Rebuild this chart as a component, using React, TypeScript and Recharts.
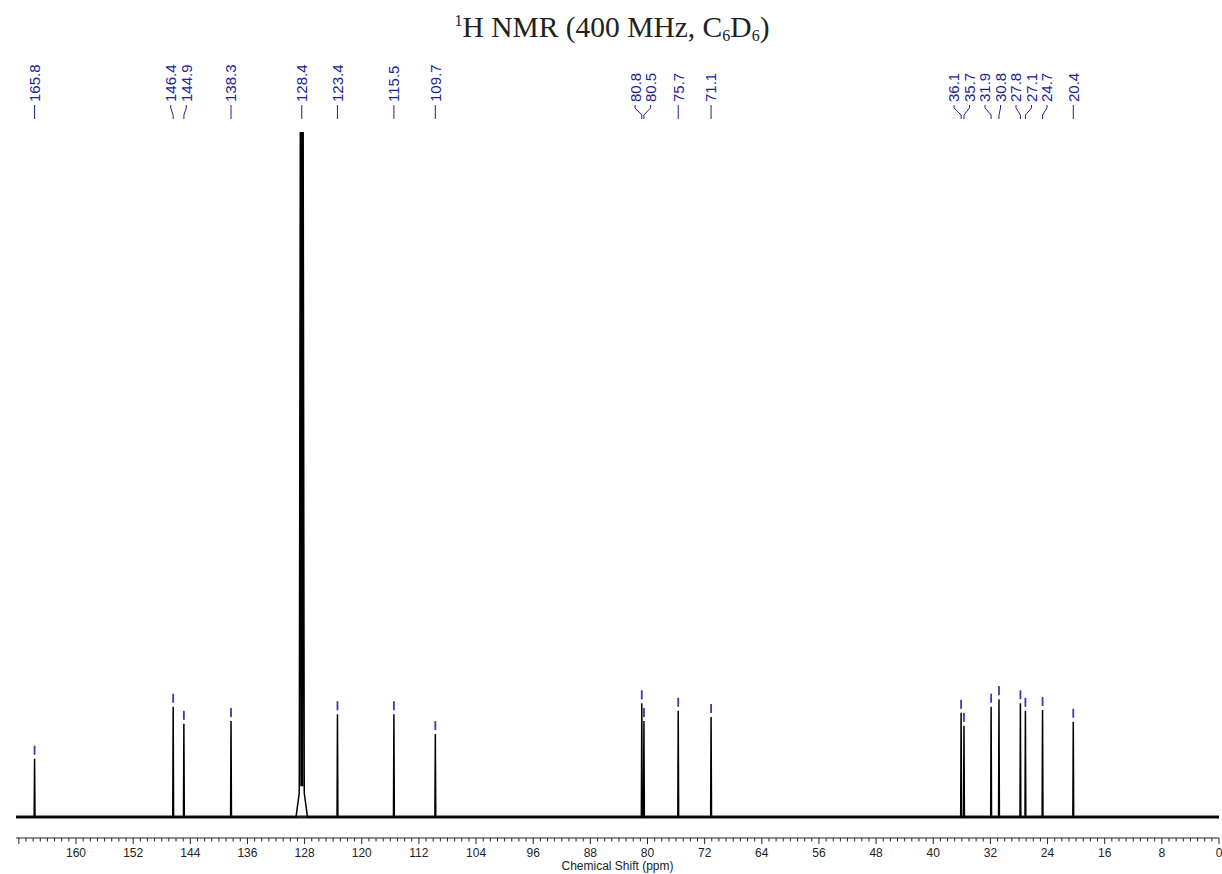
import { ComposedChart, Line, Scatter, XAxis, YAxis, ReferenceLine } from 'recharts';

// picked carbon signals (ppm) and their heights (solvent multiplet = 100)
const peakShifts = [165.8, 146.4, 144.9, 138.3, 123.4, 115.5, 109.7, 80.8, 80.5, 75.7, 71.1, 36.1, 35.7, 31.9, 30.8, 27.8, 27.1, 24.7, 20.4];
const peakHeights = [8.5, 16.1, 13.6, 14.0, 15.0, 15.0, 12.1, 16.6, 14.0, 15.5, 14.6, 15.2, 13.3, 16.1, 17.2, 16.6, 15.5, 15.6, 13.9];

// C6D6 solvent multiplet, runs off the top of the plot
const solventShifts = [129.2, 128.75, 128.6, 128.5, 128.4, 128.3, 128.2, 128.05, 127.6];
const solventHeights = [0, 3.5, 100, 4.5, 100, 4.5, 100, 3.5, 0];

// shifts printed along the top
const labelShifts = [165.8, 146.4, 144.9, 138.3, 128.4, 123.4, 115.5, 109.7, 80.8, 80.5, 75.7, 71.1, 36.1, 35.7, 31.9, 30.8, 27.8, 27.1, 24.7, 20.4];

const labelledTicks = [160, 152, 144, 136, 128, 120, 112, 104, 96, 88, 80, 72, 64, 56, 48, 40, 32, 24, 16, 8, 0];

const CHART_W = 1222;
const CHART_H = 874;
const MARGIN = { top: 132, right: 3, bottom: 0, left: 16 };
const PPM_MAX = 168.4;
const PX_PER_PPM = (CHART_W - MARGIN.left - MARGIN.right) / PPM_MAX;
const PEAK_HALF_WIDTH = 0.06;
const LABEL_GAP = 15.5;
const NAVY = '#22229a';
const SANS = '"Liberation Sans", Arial, sans-serif';

const spectrum = (() => {
  const pts: { x: number; y: number }[] = [{ x: PPM_MAX, y: 0 }, { x: 0, y: 0 }];
  peakShifts.forEach((ppm, i) => {
    pts.push({ x: ppm + PEAK_HALF_WIDTH, y: 0 }, { x: ppm, y: peakHeights[i] }, { x: ppm - PEAK_HALF_WIDTH, y: 0 });
  });
  solventShifts.forEach((ppm, i) => pts.push({ x: ppm, y: solventHeights[i] }));
  return pts.sort((a, b) => b.x - a.x);
})();

const markers = peakShifts.map((ppm, i) => ({ x: ppm, y: peakHeights[i] }));

// push crowded labels apart, keeping each group centred on its peaks
function spreadLabels(xs: number[], gap: number) {
  const pos = [...xs];
  for (let iter = 0; iter < 300; iter++) {
    let moved = false;
    for (let i = 1; i < pos.length; i++) {
      const d = pos[i] - pos[i - 1];
      if (d < gap - 0.01) {
        const push = (gap - d) / 2;
        pos[i - 1] -= push;
        pos[i] += push;
        moved = true;
      }
    }
    if (!moved) break;
  }
  return pos;
}

const basePx = labelShifts.map(ppm => (PPM_MAX - ppm) * PX_PER_PPM);
const spread = spreadLabels(basePx, LABEL_GAP);
const labelOffsets = spread.map((p, i) => p - basePx[i]);
const labels = labelShifts.map((ppm, i) => ({ x: ppm, y: 100, i }));

const allTicks = Array.from({ length: 169 }, (_, i) => i);

function PpmTick(props: any) {
  const { x, y, payload } = props;
  const v = payload.value;
  const major = v % 8 === 0;
  return (
    <g>
      <line x1={x} y1={y} x2={x} y2={y + (major ? 6 : 3.5)} stroke="#222" strokeWidth={1} />
      {labelledTicks.includes(v) && (
        <text x={x} y={y + 19} textAnchor="middle" fontSize={12} fontFamily={SANS} fill="#222">
          {v}
        </text>
      )}
    </g>
  );
}

function Marker(props: any) {
  const { cx, cy } = props;
  return <rect x={cx - 0.9} y={cy - 13} width={1.8} height={9} fill="#3a3ab0" />;
}

function PeakLabel(props: any) {
  const { cx, cy, payload } = props;
  const lx = cx + labelOffsets[payload.i];
  const top = cy - 27;
  return (
    <g>
      <polyline
        points={`${lx},${top} ${lx},${top + 3} ${cx},${top + 10} ${cx},${top + 14}`}
        fill="none"
        stroke={NAVY}
        strokeWidth={1}
      />
      <text
        x={lx}
        y={top - 3}
        transform={`rotate(-90 ${lx} ${top - 3})`}
        dy="0.36em"
        fontSize={15}
        fontFamily={SANS}
        fill={NAVY}
      >
        {payload.x.toFixed(1)}
      </text>
    </g>
  );
}

export default function App() {
  return (
    <div style={{ position: 'absolute', left: 0, top: 0, width: CHART_W, height: CHART_H, background: '#fff' }}>
      <svg width={CHART_W} height={50} style={{ position: 'absolute', left: 0, top: 0 }}>
        <text x={612} y={37} textAnchor="middle" fontFamily='"Liberation Serif", "Times New Roman", serif' fontSize={29.5} fill="#222">
          <tspan fontSize={16} dy={-11}>1</tspan>
          <tspan dy={11}>H NMR (400 MHz, C</tspan>
          <tspan fontSize={16} dy={4}>6</tspan>
          <tspan dy={-4}>D</tspan>
          <tspan fontSize={16} dy={4}>6</tspan>
          <tspan dy={-4}>)</tspan>
        </text>
      </svg>
      <ComposedChart width={CHART_W} height={CHART_H} margin={MARGIN}>
        <XAxis
          type="number"
          dataKey="x"
          domain={[0, PPM_MAX]}
          reversed
          ticks={allTicks}
          interval={0}
          tickSize={0}
          tickMargin={0}
          tickLine={false}
          tick={<PpmTick />}
          axisLine={{ stroke: '#222', strokeWidth: 1 }}
          height={36}
          label={{ value: 'Chemical Shift (ppm)', position: 'insideBottom', offset: 4, fontSize: 12, fontFamily: SANS, fill: '#222' }}
        />
        <YAxis type="number" dataKey="y" domain={[-3.07, 100]} hide width={0} />
        <ReferenceLine y={0} stroke="#1a1a1a" strokeWidth={3} ifOverflow="visible" />
        <Line
          data={spectrum}
          dataKey="y"
          type="linear"
          stroke="#000"
          strokeWidth={1.5}
          dot={false}
          isAnimationActive={false}
        />
        <Scatter data={markers} dataKey="y" shape={<Marker />} isAnimationActive={false} />
        <Scatter data={labels} dataKey="y" shape={<PeakLabel />} isAnimationActive={false} />
      </ComposedChart>
    </div>
  );
}
